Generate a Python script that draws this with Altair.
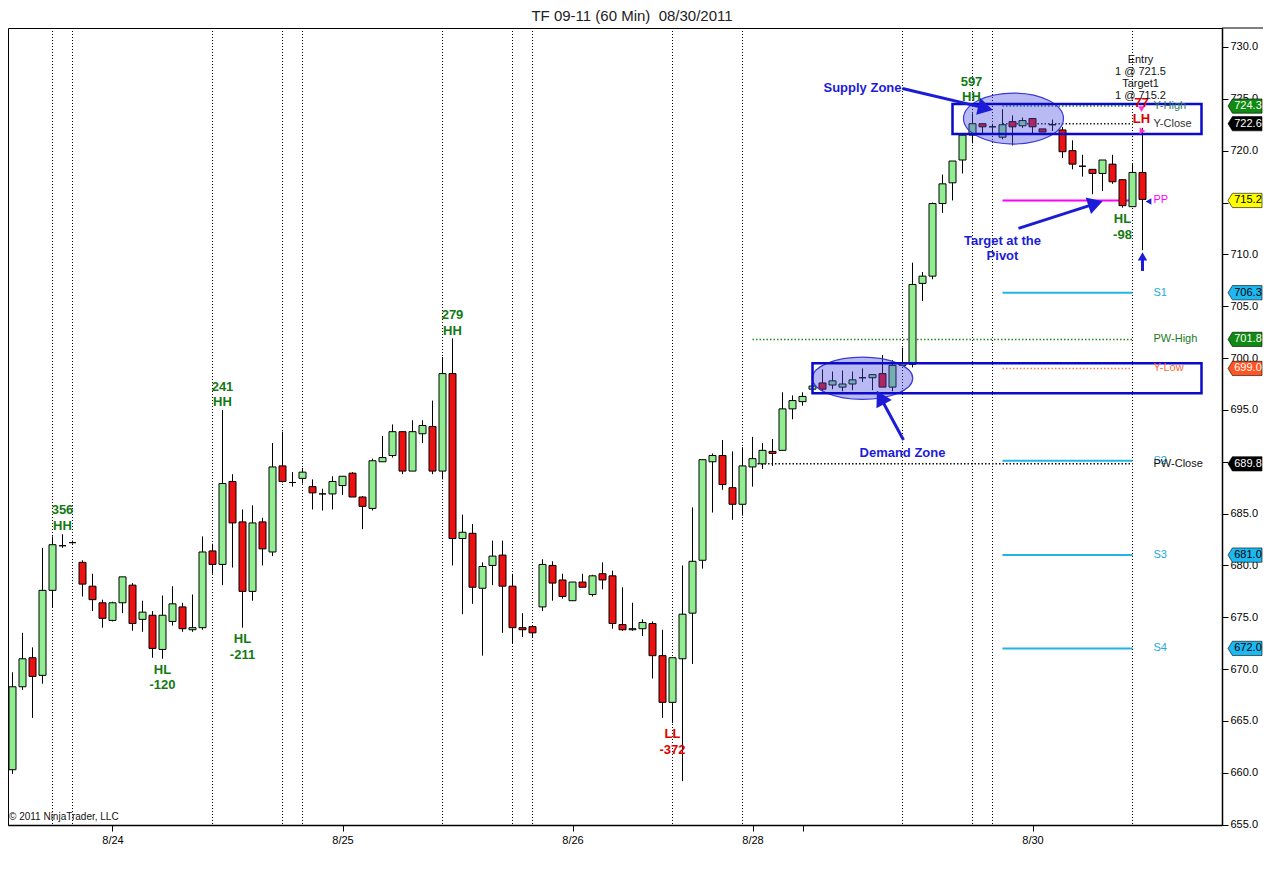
import math
import altair as alt
import numpy as np
import pandas as pd

# ---------------- data: 60-min OHLC bars (bar index 0..113) ----------------
opens = [660.3, 668.3, 671.1, 669.4, 677.6, 681.9, 682.2, 680.3, 678.0, 676.4,
         674.7, 676.4, 678.1, 674.8, 675.2, 671.9, 674.6, 676.0, 673.8, 674.0,
         681.4, 680.1, 688.1, 684.2, 677.5, 684.2, 681.3, 689.6, 688.0, 688.4,
         687.6, 686.9, 686.9, 687.7, 688.9, 686.6, 685.5, 690.0, 690.6, 692.9,
         689.1, 692.7, 693.4, 689.1, 698.5, 682.6, 683.1, 677.8, 680.0, 681.0,
         678.0, 674.0, 674.1, 676.0, 680.0, 678.6, 676.6, 678.4, 677.2, 679.2,
         679.0, 674.3, 673.8, 673.9, 674.4, 671.3, 666.8, 671.0, 675.4, 680.5,
         690.0, 690.6, 687.5, 685.9, 689.5, 689.8, 691.0, 691.1, 695.1, 695.8,
         697.0, 697.6, 697.4, 697.2, 697.5, 698.1, 698.1, 698.5, 697.2, 699.3,
         699.4, 707.2, 707.9, 714.9, 716.9, 719.1, 721.5, 722.6, 722.3, 721.3,
         722.8, 722.4, 723.1, 722.1, 722.5, 722.0, 720.0, 718.5, 718.2, 717.8,
         718.7, 717.2, 714.6, 717.9]
highs = [669.7, 673.5, 672.1, 681.7, 682.8, 683.0, 682.4, 680.5, 679.2, 676.7,
         676.5, 678.9, 678.3, 676.6, 675.6, 677.1, 678.0, 676.4, 677.2, 682.8,
         682.1, 695.0, 688.8, 685.4, 685.8, 684.6, 691.8, 692.9, 689.0, 689.4,
         688.3, 687.4, 688.6, 688.6, 689.0, 686.7, 690.3, 692.5, 693.6, 692.9,
         694.0, 694.0, 695.9, 700.1, 701.9, 684.9, 684.0, 680.3, 682.4, 682.4,
         679.2, 675.4, 674.1, 680.6, 680.4, 679.2, 678.4, 679.2, 679.1, 680.3,
         679.5, 677.9, 676.4, 674.8, 674.6, 673.8, 671.1, 680.0, 685.6, 690.2,
         690.8, 692.1, 691.0, 691.4, 692.4, 691.8, 692.2, 696.7, 696.4, 696.7,
         697.4, 698.9, 698.7, 698.8, 698.7, 699.0, 698.4, 700.3, 699.8, 701.0,
         709.2, 708.3, 715.0, 717.7, 719.0, 721.7, 723.6, 722.6, 722.6, 724.0,
         723.4, 723.2, 723.1, 722.1, 723.0, 722.3, 721.0, 719.6, 718.2, 719.1,
         719.6, 717.2, 718.7, 722.2]
lows = [659.9, 668.0, 665.3, 668.6, 675.9, 681.7, 682.1, 677.0, 675.6, 674.0,
        674.6, 675.4, 673.7, 673.6, 671.1, 671.0, 674.2, 673.6, 673.6, 673.8,
        679.2, 678.1, 679.8, 674.0, 676.6, 680.0, 680.9, 688.0, 687.6, 687.9,
        685.4, 685.3, 685.4, 686.8, 686.6, 683.5, 685.3, 690.0, 690.4, 688.8,
        689.1, 691.8, 688.8, 688.3, 680.0, 675.3, 676.3, 671.3, 678.1, 673.5,
        672.5, 673.1, 673.1, 675.6, 676.6, 676.8, 676.6, 677.9, 677.0, 677.7,
        673.9, 673.7, 673.7, 673.2, 669.1, 665.3, 664.8, 659.2, 670.5, 679.7,
        685.1, 687.3, 684.4, 684.8, 687.6, 689.3, 689.6, 691.1, 694.1, 695.4,
        697.0, 696.8, 697.0, 696.8, 696.9, 697.7, 696.9, 697.2, 696.8, 699.3,
        699.1, 705.5, 707.6, 714.0, 715.2, 717.8, 720.7, 721.7, 721.6, 721.1,
        720.5, 722.2, 721.7, 721.8, 721.9, 719.3, 718.2, 717.5, 715.8, 716.1,
        716.8, 714.5, 714.6, 710.4]
closes = [668.3, 671.0, 669.3, 677.6, 682.0, 681.9, 682.2, 678.2, 676.7, 674.9,
          676.4, 678.9, 674.4, 675.5, 672.0, 675.2, 676.3, 673.9, 674.0, 681.3,
          680.1, 687.9, 684.1, 677.5, 684.1, 681.6, 689.5, 688.1, 688.0, 689.0,
          687.0, 686.9, 688.1, 688.6, 686.6, 685.7, 690.1, 690.4, 692.9, 689.1,
          692.9, 693.5, 689.1, 698.5, 682.6, 683.2, 677.9, 679.9, 680.9, 678.0,
          674.0, 673.8, 673.5, 680.1, 678.3, 677.0, 678.4, 677.9, 679.0, 678.6,
          674.4, 673.8, 673.9, 674.5, 671.3, 666.8, 671.1, 675.3, 680.4, 690.2,
          690.6, 687.8, 685.9, 689.6, 690.3, 691.1, 690.8, 695.1, 695.9, 696.3,
          697.3, 697.0, 697.8, 697.5, 697.9, 698.1, 698.4, 697.2, 699.3, 699.5,
          707.1, 707.9, 714.9, 716.8, 719.0, 721.5, 722.6, 722.3, 722.3, 722.5,
          722.3, 722.9, 722.3, 721.8, 722.5, 719.9, 718.7, 718.5, 717.8, 719.1,
          717.0, 714.7, 717.9, 715.3]

# session separators (bar index)
session_idx = [4, 6, 20, 27, 29, 43, 50, 52, 66, 73, 89, 96, 98, 112]

# x axis ticks
tick_idx = [10, 33, 56, 74, 79, 102]
tick_text = ["8/24", "8/25", "8/26", "8/28", "", "8/30"]
y_ticks = [655, 660, 665, 670, 675, 680, 685, 690, 695, 700, 705, 710, 715, 720, 725, 730]

# pivot / reference levels
level_names = ["Y-High", "Y-Close", "PP", "S1", "PW-High", "Y-Low", "S2", "PW-Close", "S3", "S4"]
level_values = [724.3, 722.6, 715.2, 706.3, 701.8, 699.0, 690.1, 689.8, 681.0, 672.0]
level_start = [99, 99, 99, 99, 74, 99, 99, 74.5, 99, 99]
level_end = [112] * 10

# price tags on the right axis
tag_values = [724.3, 722.6, 715.2, 706.3, 701.8, 699.0, 689.8, 681.0, 672.0]

# zones (bar index range, price range)
zone_names = ["Supply", "Demand"]
zone_i0 = [94, 80]
zone_i1 = [118.9, 118.9]
zone_lo = [721.6, 696.6]
zone_hi = [724.5, 699.5]

# swing labels
swing_text = ["356", "HH", "HL", "-120", "241", "HH", "HL", "-211", "279", "HH",
              "LL", "-372", "597", "HH", "HL", "-98", "77", "LH"]
swing_i = [5, 5, 15, 15, 21, 21, 23, 23, 44, 44, 66, 66, 95.9, 95.9, 111, 111, 112.9, 112.9]
swing_p = [685.3, 683.8, 669.9, 668.5, 697.2, 695.8, 672.9, 671.4, 704.2, 702.6,
           663.7, 662.2, 726.6, 725.2, 713.4, 711.9, 724.6, 723.1]
swing_kind = ["up"] * 10 + ["down", "down"] + ["up"] * 4 + ["down", "down"]

# blue notes
note_text = ["Supply Zone", "Demand Zone", "Target at the", "Pivot"]
note_i = [85, 89, 99, 99]
note_p = [726.0, 690.8, 711.3, 709.8]

# order info
order_text = ["Entry", "1 @ 721.5", "Target1", "1 @ 715.2"]
order_i = [112.8, 112.8, 112.8, 112.8]
order_p = [728.7, 727.6, 726.4, 725.3]

# arrows
arrow_i0 = [89.0, 89.1, 100.6, 113.0]
arrow_p0 = [726.0, 692.1, 712.5, 708.4]
arrow_i1 = [97.3, 86.8, 108.3, 113.0]
arrow_p1 = [724.1, 696.2, 714.9, 709.8]

# ellipses around consolidation
ell_i = [100.1, 85.0]
ell_p = [723.1, 698.05]

# ---------------- layout constants ----------------
W, H = 1214, 797
PAD_R = 41
X_DOM = [-0.45, 120.95]
Y_DOM = [654.97, 731.83]
PX_X = W / (X_DOM[1] - X_DOM[0])
PX_Y = H / (Y_DOM[1] - Y_DOM[0])
FONT = "Liberation Sans"
GREEN_TXT = "#137a13"
RED_TXT = "#dd0000"
BLUE_TXT = "#1c1cd8"

xs = alt.Scale(domain=X_DOM, nice=False, zero=False)
ys = alt.Scale(domain=Y_DOM, nice=False, zero=False)

label_expr = " : ".join(f"datum.value == {v} ? '{t}'" for v, t in zip(tick_idx, tick_text)) + " : ''"
XAX = alt.Axis(values=tick_idx, labelExpr=label_expr, title="", grid=False,
               tickSize=6, tickColor="black", domainColor="black", domainWidth=1.5,
               labelFont=FONT, labelFontSize=11, labelColor="black", labelPadding=3,
               labelFlush=False, zindex=1)
YAX = alt.Axis(orient="right", values=y_ticks, format=".1f", title="", grid=False,
               tickSize=6, tickColor="black", domainColor="black", domainWidth=1.5,
               labelFont=FONT, labelFontSize=11, labelColor="black", labelPadding=2, zindex=0)


def X(f):
    return alt.X(f, type="quantitative", scale=xs, axis=XAX)


def Y(f):
    return alt.Y(f, type="quantitative", scale=ys, axis=YAX)


# ---------------- frames ----------------
cdf = pd.DataFrame({"i": list(range(len(opens))), "open": opens, "high": highs,
                    "low": lows, "close": closes})
cdf["top"] = cdf[["open", "close"]].max(axis=1)
cdf["bot"] = cdf[["open", "close"]].min(axis=1)
cdf["fill"] = np.where(cdf.close > cdf.open, "#90ee90",
                       np.where(cdf.close < cdf.open, "#ee1111", "#000000"))
cdf["x0"] = cdf.i - 0.35
cdf["x1"] = cdf.i + 0.35

sdf = pd.DataFrame({"i": session_idx})

level_color = {"Y-High": "#1a8a1a", "Y-Close": "#222222", "PP": "#ff00ff", "S1": "#22b4e8",
               "PW-High": "#1a8a1a", "Y-Low": "#ff7755", "S2": "#22b4e8", "PW-Close": "#111111",
               "S3": "#22b4e8", "S4": "#22b4e8"}
label_color = {"Y-High": "#2e7d5a", "Y-Close": "#333333", "PP": "#ff00ff", "S1": "#22aadd",
               "PW-High": "#1a7a1a", "Y-Low": "#ff6633", "S2": "#22aadd", "PW-Close": "#111111",
               "S3": "#22aadd", "S4": "#22aadd"}
dotted_set = {"Y-High", "Y-Close", "PW-High", "Y-Low", "PW-Close"}
ldf = pd.DataFrame({"name": level_names, "v": level_values, "i0": level_start, "i1": level_end})
ldf["col"] = ldf.name.map(level_color)
ldf["lcol"] = ldf.name.map(label_color)
ldf["dotted"] = ldf.name.isin(dotted_set)
ldf["lx"] = 114.1

tag_fill = ["#108a10", "#000000", "#ffff00", "#1eb8f0", "#108a10", "#ff5522", "#000000", "#1eb8f0", "#1eb8f0"]
tag_txt = ["#ffffff", "#ffffff", "#000000", "#000000", "#ffffff", "#ffffff", "#ffffff", "#000000", "#000000"]
tdf = pd.DataFrame({"v": tag_values, "fill": tag_fill, "tc": tag_txt,
                    "label": [f"{v:.1f}" for v in tag_values]})

zdf = pd.DataFrame({"z": zone_names, "i0": zone_i0, "i1": zone_i1, "lo": zone_lo, "hi": zone_hi})

swdf = pd.DataFrame({"t": swing_text, "i": swing_i, "p": swing_p, "k": swing_kind})
swdf["c"] = np.where(swdf.k == "up", GREEN_TXT, RED_TXT)
ndf = pd.DataFrame({"t": note_text, "i": note_i, "p": note_p})
odf = pd.DataFrame({"t": order_text, "i": order_i, "p": order_p})

adf = pd.DataFrame({"i0": arrow_i0, "p0": arrow_p0, "i1": arrow_i1, "p1": arrow_p1})
adf["ang"] = [math.degrees(math.atan2((b - a) * PX_X, (d - c) * PX_Y)) % 360
              for a, b, c, d in zip(adf.i0, adf.i1, adf.p0, adf.p1)]
adf["sz"] = [300, 300, 300, 90]

# ---------------- layers ----------------
sessions = alt.Chart(sdf).mark_rule(color="#000000", strokeWidth=1, strokeDash=[1, 2]).encode(
    x=X("i"), y=alt.value(0), y2=alt.value(H))

# top frame line continuing over the price-axis area
frame_top = alt.Chart(pd.DataFrame({"k": [0]})).mark_rule(color="black", strokeWidth=1).encode(
    x=alt.value(W), x2=alt.value(W + PAD_R), y=alt.value(0))

levels_solid = alt.Chart(ldf).transform_filter("!datum.dotted").mark_rule(strokeWidth=2).encode(
    x=X("i0"), x2=alt.X2("i1"), y=Y("v"), color=alt.Color("col:N", scale=None))
levels_dot = alt.Chart(ldf).transform_filter("datum.dotted").mark_rule(strokeWidth=1.5, strokeDash=[1.5, 2]).encode(
    x=X("i0"), x2=alt.X2("i1"), y=Y("v"), color=alt.Color("col:N", scale=None))
level_labels = alt.Chart(ldf).mark_text(align="left", baseline="middle", font=FONT, fontSize=11).encode(
    x=X("lx"), y=Y("v"), text="name:N", color=alt.Color("lcol:N", scale=None))

wicks = alt.Chart(cdf).mark_rule(color="black", strokeWidth=1).encode(
    x=X("i"), y=Y("low"), y2=alt.Y2("high"))

bodies = alt.Chart(cdf).mark_rect(stroke="black", strokeWidth=1).encode(
    x=X("x0"), x2=alt.X2("x1"), y=Y("bot"), y2=alt.Y2("top"), fill=alt.Fill("fill:N", scale=None))

ell_supply = alt.Chart(pd.DataFrame({"i": [ell_i[0]], "p": [ell_p[0]]})).mark_point(
    shape="M -1 0 A 1 0.51 0 1 1 1 0 A 1 0.51 0 1 1 -1 0 Z", size=10000, filled=True,
    fill="#4848e0", fillOpacity=0.38, stroke="#3a3ad8", strokeWidth=1.2, opacity=1).encode(
    x=X("i"), y=Y("p"))
ell_demand = alt.Chart(pd.DataFrame({"i": [ell_i[1]], "p": [ell_p[1]]})).mark_point(
    shape="M -1 0 A 1 0.42 0 1 1 1 0 A 1 0.42 0 1 1 -1 0 Z", size=10100, filled=True,
    fill="#4848e0", fillOpacity=0.38, stroke="#3a3ad8", strokeWidth=1.2, opacity=1).encode(
    x=X("i"), y=Y("p"))

zones = alt.Chart(zdf).mark_rect(fillOpacity=0, stroke="#0a0ac8", strokeWidth=2.5).encode(
    x=X("i0"), x2=alt.X2("i1"), y=Y("lo"), y2=alt.Y2("hi"))

arrow_lines = alt.Chart(adf).mark_rule(color=BLUE_TXT, strokeWidth=3).encode(
    x=X("i0"), x2=alt.X2("i1"), y=Y("p0"), y2=alt.Y2("p1"))
arrow_heads = alt.Chart(adf).mark_point(shape="triangle-up", filled=True, color=BLUE_TXT, opacity=1).encode(
    x=X("i1"), y=Y("p1"), angle=alt.Angle("ang:Q", scale=None), size=alt.Size("sz:Q", scale=None))

# small order markers near the last bar
mdf = pd.DataFrame({"i": [112.9, 113.0, 113.6], "p": [724.0, 721.9, 715.1],
                    "ang": [180, 90, 270], "c": ["#ff33cc", "#ff33cc", BLUE_TXT]})
markers = alt.Chart(mdf).mark_point(shape="triangle-up", filled=True, size=45, opacity=1).encode(
    x=X("i"), y=Y("p"), angle=alt.Angle("ang:Q", scale=None), color=alt.Color("c:N", scale=None))

swings = alt.Chart(swdf).mark_text(font=FONT, fontSize=13, fontWeight="bold", baseline="middle").encode(
    x=X("i"), y=Y("p"), text="t:N", color=alt.Color("c:N", scale=None))
notes = alt.Chart(ndf).mark_text(font=FONT, fontSize=13, fontWeight="bold", baseline="middle",
                                 color=BLUE_TXT).encode(x=X("i"), y=Y("p"), text="t:N")
orders = alt.Chart(odf).mark_text(font=FONT, fontSize=11, baseline="middle", color="#111111").encode(
    x=X("i"), y=Y("p"), text="t:N")

tags = alt.Chart(tdf).mark_point(
    shape="M -1 0 L -0.74 -0.42 L 1 -0.42 L 1 0.42 L -0.74 0.42 Z", size=1156, filled=True,
    opacity=1, stroke="#000000", strokeWidth=0.6).encode(
    x=alt.value(1237), y=Y("v"), fill=alt.Fill("fill:N", scale=None))
tag_text = alt.Chart(tdf).mark_text(font=FONT, fontSize=11, baseline="middle", align="center").encode(
    x=alt.value(1240), y=Y("v"), text="label:N", color=alt.Color("tc:N", scale=None))

copyright_txt = alt.Chart(pd.DataFrame({"t": ["\u00a9 2011 NinjaTrader, LLC"]})).mark_text(
    font=FONT, fontSize=10, align="left", baseline="middle", color="#111111").encode(
    x=alt.value(1), y=alt.value(H - 8), text="t:N")

chart = alt.layer(
    sessions, frame_top, levels_dot, levels_solid, wicks, bodies, ell_supply, ell_demand, zones,
    arrow_lines, arrow_heads, markers, swings, notes, orders, level_labels,
    tags, tag_text, copyright_txt
).properties(
    width=W, height=H,
    title=alt.TitleParams("TF 09-11 (60 Min)\u00a0\u00a008/30/2011", font=FONT, fontSize=15,
                          fontWeight="normal", color="#222222", anchor="middle", frame="group",
                          dx=17, offset=4),
    autosize=alt.AutoSizeParams(type="none"),
    padding={"left": 0, "top": 20, "right": PAD_R, "bottom": 24},
    background="white",
).configure_view(stroke="black", strokeWidth=1)

chart.save("out.html", embed_options={"renderer": "svg", "actions": False})
